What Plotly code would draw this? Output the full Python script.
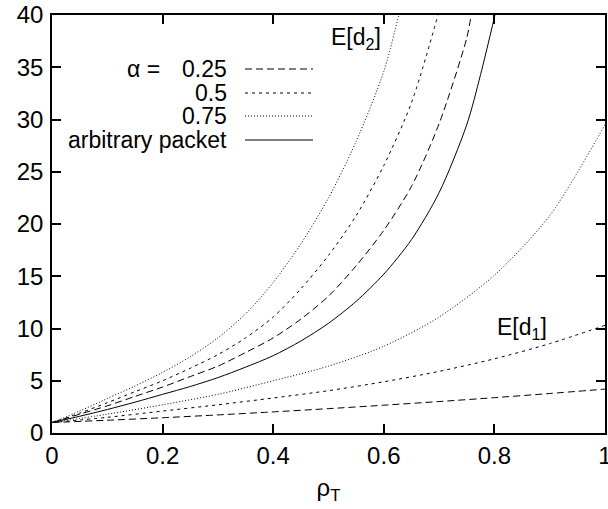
import plotly.graph_objects as go

# ---- data ----
rho_d1 = [0.0, 0.1, 0.2, 0.3, 0.4, 0.5, 0.6, 0.7, 0.8, 0.9, 1.0]
ed1_a025 = [1.0, 1.22, 1.46, 1.73, 2.02, 2.33, 2.66, 3.01, 3.38, 3.78, 4.2]
ed1_a050 = [1.0, 1.5, 2.1, 2.7, 3.35, 4.05, 4.9, 5.9, 7.1, 8.55, 10.3]
ed1_a075 = [1.0, 1.8, 2.7, 3.7, 5.0, 6.4, 8.3, 11.1, 15.1, 20.8, 29.5]

rho_d2_a075 = [0.0, 0.05, 0.1, 0.15, 0.2, 0.25, 0.3, 0.35, 0.4, 0.45, 0.5, 0.55, 0.6, 0.627]
ed2_a075 = [1.0, 2.1, 3.3, 4.5, 5.8, 7.3, 9.1, 11.4, 14.4, 18.1, 22.5, 27.9, 34.6, 40.0]

rho_d2_a050 = [0.0, 0.05, 0.1, 0.15, 0.2, 0.25, 0.3, 0.35, 0.4, 0.45, 0.5, 0.55, 0.6, 0.65, 0.698]
ed2_a050 = [1.0, 1.9, 2.9, 3.95, 5.0, 6.2, 7.5, 9.1, 11.1, 13.8, 17.0, 20.8, 25.6, 31.6, 40.0]

rho_d2_a025 = [0.0, 0.05, 0.1, 0.15, 0.2, 0.25, 0.3, 0.35, 0.4, 0.45, 0.5, 0.55, 0.6, 0.65, 0.7, 0.75, 0.758]
ed2_a025 = [1.0, 1.8, 2.6, 3.5, 4.4, 5.4, 6.4, 7.7, 9.1, 10.9, 13.1, 16.0, 19.4, 23.6, 29.6, 37.8, 40.0]

rho_d2_arb = [0.0, 0.05, 0.1, 0.15, 0.2, 0.25, 0.3, 0.35, 0.4, 0.45, 0.5, 0.55, 0.6, 0.65, 0.7, 0.75, 0.775, 0.801]
ed2_arb = [1.0, 1.6, 2.25, 2.95, 3.7, 4.45, 5.3, 6.3, 7.4, 8.8, 10.5, 12.6, 15.2, 18.5, 23.0, 29.5, 34.3, 40.0]

x_ticks = [0, 0.2, 0.4, 0.6, 0.8, 1]
x_ticklabels = ["0", "0.2", "0.4", "0.6", "0.8", "1"]
y_ticks = [0, 5, 10, 15, 20, 25, 30, 35, 40]

alpha_labels = ["0.25", "0.5", "0.75"]
arb_label = "arbitrary packet"

# ---- styles ----
FONT = "Liberation Sans, Arial, Helvetica, sans-serif"
FS = 24
FS_KEY = 23
dash_long = "7px,4px"
dash_short = "3px,4px"
dash_dot = "1px,2px"

fig = go.Figure()

def add(x, y, dash):
    fig.add_trace(go.Scatter(x=x, y=y, mode="lines",
                             line=dict(color="black", width=1, dash=dash, shape="spline", smoothing=0.8),
                             showlegend=False, hoverinfo="skip"))

add(rho_d1, ed1_a025, dash_long)
add(rho_d1, ed1_a050, dash_short)
add(rho_d1, ed1_a075, dash_dot)
add(rho_d2_a025, ed2_a025, dash_long)
add(rho_d2_a050, ed2_a050, dash_short)
add(rho_d2_a075, ed2_a075, dash_dot)
add(rho_d2_arb, ed2_arb, "solid")

# plot area geometry in pixels
L, R, T, B = 52, 605, 15, 433
W, H = 608, 509

def px(xp):
    return (xp - L) / (R - L)

def py(yp):
    return (B - yp) / (B - T)

annotations = []
shapes = []
rows_y = [69, 93, 116, 140]
dashes = [dash_long, dash_short, dash_dot, "solid"]
texts = alpha_labels + [arb_label]
for ry, txt, d in zip(rows_y, texts, dashes):
    annotations.append(dict(xref="paper", yref="paper", x=px(229), y=py(ry), text=txt,
                            xanchor="right", yanchor="middle", showarrow=False,
                            font=dict(family=FONT, size=FS_KEY, color="black")))
    shapes.append(dict(type="line", xref="paper", yref="paper", x0=px(245), x1=px(313),
                       y0=py(ry), y1=py(ry), line=dict(color="black", width=1, dash=d)))
annotations.append(dict(xref="paper", yref="paper", x=px(162), y=py(rows_y[0]), text="α =",
                        xanchor="right", yanchor="middle", showarrow=False,
                        font=dict(family=FONT, size=FS_KEY, color="black")))
annotations.append(dict(xref="paper", yref="paper", x=px(383), y=py(38), text="E[d<sub>2</sub>]",
                        xanchor="right", yanchor="middle", showarrow=False,
                        font=dict(family=FONT, size=FS_KEY, color="black")))
annotations.append(dict(xref="paper", yref="paper", x=px(549), y=py(328), text="E[d<sub>1</sub>]",
                        xanchor="right", yanchor="middle", showarrow=False,
                        font=dict(family=FONT, size=FS_KEY, color="black")))

axis_common = dict(showline=True, linecolor="black", linewidth=1.5, mirror="ticks",
                   ticks="inside", ticklen=9, tickwidth=1.5, tickcolor="black",
                   showgrid=False, zeroline=False, ticklabeloverflow="allow",
                   automargin=False,
                   tickfont=dict(family=FONT, size=FS, color="black"))

fig.update_layout(
    width=W, height=H,
    margin=dict(l=L, r=W - R, t=T, b=H - B, autoexpand=False),
    paper_bgcolor="white", plot_bgcolor="white",
    xaxis=dict(range=[0, 1], tickvals=x_ticks, ticktext=x_ticklabels,
               title=dict(text="ρ<sub>T</sub>", font=dict(family=FONT, size=FS, color="black"), standoff=12),
               **axis_common),
    yaxis=dict(range=[0, 40], tickvals=y_ticks, ticklabelstandoff=2, **axis_common),
    annotations=annotations, shapes=shapes,
)

fig.write_html("out.html")
